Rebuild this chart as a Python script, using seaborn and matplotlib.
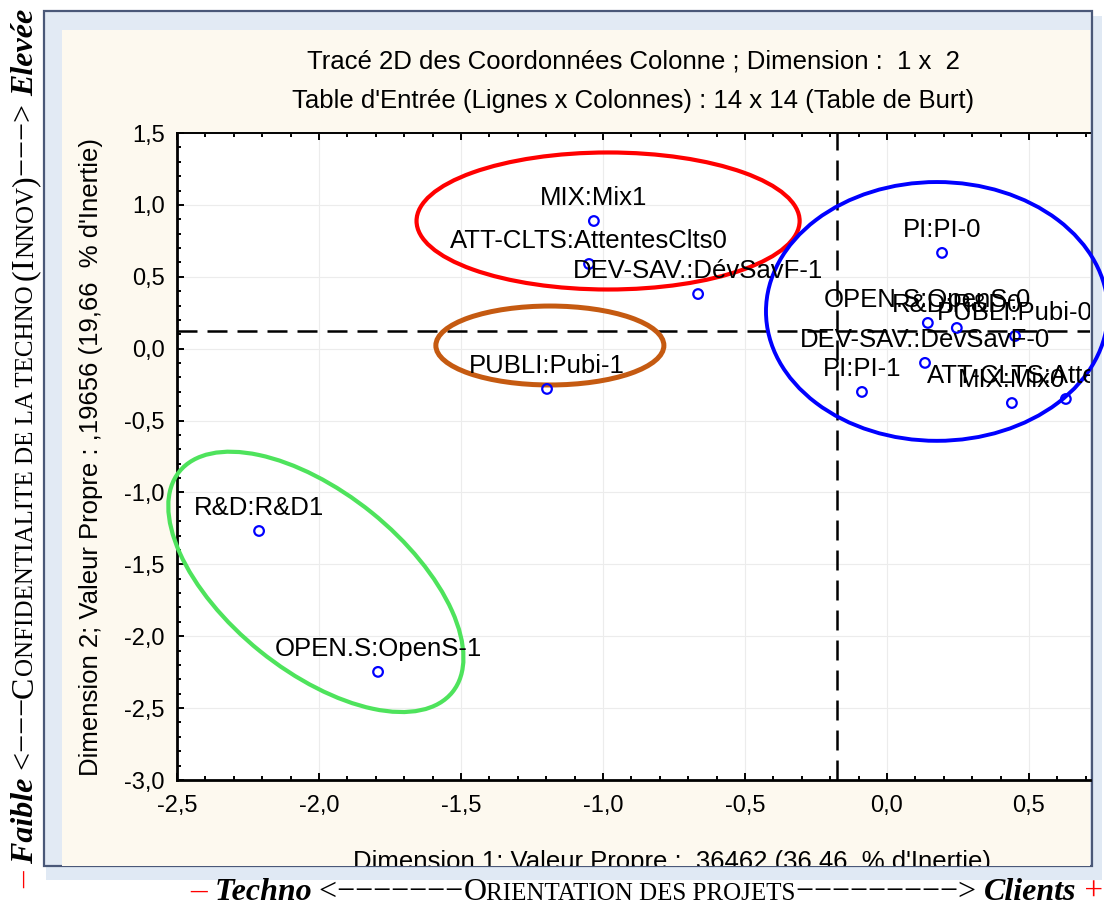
import numpy as np
import pandas as pd
import matplotlib
matplotlib.use('Agg')
from matplotlib import pyplot as plt
from matplotlib.patches import Ellipse, Rectangle
from matplotlib.ticker import MultipleLocator, FuncFormatter
from matplotlib.transforms import Affine2D, Bbox, TransformedBbox
import seaborn as sns

# column coordinates
labels = ["MIX:Mix1", "ATT-CLTS:AttentesClts0", "DEV-SAV.:DévSavF-1", "PUBLI:Pubi-1",
          "R&D:R&D1", "OPEN.S:OpenS-1", "PI:PI-0", "OPEN.S:OpenS-0", "R&D:R&D0",
          "PUBLI:Pubi-0", "DEV-SAV.:DevSavF-0", "PI:PI-1", "MIX:Mix0", "ATT-CLTS:AttentesClts1"]
dim1 = [-1.032, -1.049, -0.665, -1.197, -2.211, -1.792, 0.194, 0.144, 0.246,
        0.451, 0.134, -0.088, 0.440, 0.630]
dim2 = [0.888, 0.589, 0.380, -0.280, -1.268, -2.248, 0.666, 0.179, 0.144,
        0.088, -0.099, -0.301, -0.378, -0.350]

# dashed reference lines
x_ref = -0.176
y_ref = 0.123

# hand drawn groups: centre x, centre y, width, height (data units)
red_grp = (-0.982, 0.888, 1.349, 0.953)
brown_grp = (-1.187, 0.022, 0.803, 0.549)
blue_grp = (0.176, 0.259, 1.204, 1.80)
# green one is tilted, so width/height in pixels + angle
green_grp = (-2.011, -1.622, 351, 178, -38.9)

df = pd.DataFrame({"label": labels, "dim1": dim1, "dim2": dim2})

sns.set_style('white')
plt.rcParams['font.family'] = ['Liberation Sans', 'DejaVu Sans']
plt.rcParams['text.color'] = 'black'
plt.rcParams['axes.labelcolor'] = 'black'

W, H = 1104, 908
fig = plt.figure(figsize=(W / 100, H / 100), dpi=100, facecolor='white')


def fx(p):
    return p / W


def fy(p):
    return 1 - p / H


# window frame + shadow + cream panel
fig.add_artist(Rectangle((fx(46), fy(880)), fx(1056), (880 - 16) / H, transform=fig.transFigure,
                         fc='#c8d8ec', ec='none', alpha=0.55, zorder=0))
fig.add_artist(Rectangle((fx(44), fy(866)), fx(1048), (866 - 11) / H, transform=fig.transFigure,
                         fc='#e2eaf4', ec='#4a5878', lw=1.6, zorder=0.5))
cream = Rectangle((fx(62), fy(866)), fx(1028), (866 - 30) / H, transform=fig.transFigure,
                  fc='#fdf9ef', ec='none', zorder=0.6)
fig.add_artist(cream)

ax = fig.add_axes([fx(177), fy(780), fx(1090 - 177), (780 - 133) / H])
ax.set_zorder(2)
ax.set_facecolor('white')
ax.set_xlim(-2.5, 0.715)
ax.set_ylim(-3.0, 1.5)

ax.grid(True, which='major', color='#ececec', lw=0.8)
ax.set_axisbelow(True)

ax.axvline(x_ref, color='black', ls=(0, (8, 4)), lw=1.8, zorder=3)
ax.axhline(y_ref, color='black', ls=(0, (8, 4)), lw=1.8, zorder=3)

sns.scatterplot(data=df, x='dim1', y='dim2', ax=ax, marker='o', s=48,
                facecolor='none', edgecolor='#0000ff', linewidth=1.6, zorder=5)

for lab, xv, yv in zip(labels, dim1, dim2):
    ax.annotate(lab, (xv, yv), xytext=(0, 8), textcoords='offset points',
                ha='center', va='bottom', fontsize=18.5, clip_on=True, zorder=6)

for (cx, cy, w, h), col, lw, clip in [(red_grp, '#ff0000', 3.0, True),
                                      (brown_grp, '#c55a11', 3.6, True),
                                      (blue_grp, '#0000ff', 2.8, False)]:
    ax.add_patch(Ellipse((cx, cy), w, h, fill=False, ec=col, lw=lw, clip_on=clip, zorder=4))

# tilted ellipse drawn in pixel units around its data centre
kx = ax.bbox.width / (ax.get_xlim()[1] - ax.get_xlim()[0])
ky = ax.bbox.height / (ax.get_ylim()[1] - ax.get_ylim()[0])
gx, gy, gw, gh, ga = green_grp
tr = Affine2D().scale(1 / kx, 1 / ky).translate(gx, gy) + ax.transData
ax.add_patch(Ellipse((0, 0), gw, gh, angle=ga, fill=False, ec='#4ee35c', lw=3.0,
                     transform=tr, clip_on=False, zorder=4))

# ticks
ax.xaxis.set_major_locator(MultipleLocator(0.5))
ax.xaxis.set_minor_locator(MultipleLocator(0.1))
ax.yaxis.set_major_locator(MultipleLocator(0.5))
ax.yaxis.set_minor_locator(MultipleLocator(0.1))
fmt = FuncFormatter(lambda v, p: '{:.1f}'.format(v).replace('.', ','))
ax.xaxis.set_major_formatter(fmt)
ax.yaxis.set_major_formatter(fmt)
ax.tick_params(which='both', direction='in', top=True, right=False, bottom=True, left=True,
               colors='black', width=1.4)
ax.tick_params(which='major', length=5, labelsize=17, pad=11)
ax.tick_params(which='minor', length=3)
ax.tick_params(axis='y', which='major', pad=9)

for s in ['left', 'bottom']:
    ax.spines[s].set_linewidth(2.0)
    ax.spines[s].set_color('black')
ax.spines['top'].set_linewidth(1.4)
ax.spines['top'].set_color('black')
ax.spines['right'].set_visible(False)

ax.set_xlabel("Dimension 1: Valeur Propre : .36462 (36.46  % d'Inertie)", fontsize=18.5)
ax.set_ylabel("Dimension 2; Valeur Propre : ,19656 (19,66  % d'Inertie)", fontsize=18.5)
ax.xaxis.set_label_coords((672 - 177) / 913, -(850 - 780) / 647)
ax.yaxis.set_label_coords(-(177 - 103) / 913, 0.5)
clip_box = TransformedBbox(Bbox([[fx(62), fy(866)], [fx(1090), fy(30)]]), fig.transFigure)
ax.xaxis.label.set_clip_box(clip_box)
ax.xaxis.label.set_clip_on(True)

fig.text(fx(633), fy(62), "Tracé 2D des Coordonnées Colonne ; Dimension :  1 x  2",
         ha='center', va='center', fontsize=18.5, zorder=3)
fig.text(fx(633), fy(101), "Table d'Entrée (Lignes x Colonnes) : 14 x 14 (Table de Burt)",
         ha='center', va='center', fontsize=18.5, zorder=3)

# outer hand-written axis captions (serif, small caps made from two sizes)
renderer = fig.canvas.get_renderer()


def chain_text(pieces, x0, y0, rotation=0):
    x, y = x0, y0
    for s, kw in pieces:
        t = fig.text(fx(x), fy(y), s, rotation=rotation, rotation_mode='anchor',
                     ha='left', va='baseline', family='Liberation Serif', zorder=3, **kw)
        bb = t.get_window_extent(renderer)
        if rotation == 0:
            x += bb.width
        else:
            y -= bb.height


big = dict(fontsize=23)
small = dict(fontsize=18)
bi = dict(fontsize=23, weight='bold', style='italic')
red = dict(fontsize=24, color='#ff0000')

chain_text([("–", red), (" Techno", bi), (" <−−−−−−−", big), ("O", big),
            ("RIENTATION DES PROJETS", small), ("−−−−−−−−−> ", big), ("Clients", bi),
            (" +", red)], 190, 900)

chain_text([("–", red), (" Faible", bi), (" <−−−", big), ("C", big),
            ("ONFIDENTIALITE DE LA TECHNO ", small), ("(", big), ("I", big),
            ("NNOV", small), (")", big), ("−−−> ", big), ("Elevée", bi)],
           33, 888, rotation=90)

fig.savefig('out.png', dpi=100)
